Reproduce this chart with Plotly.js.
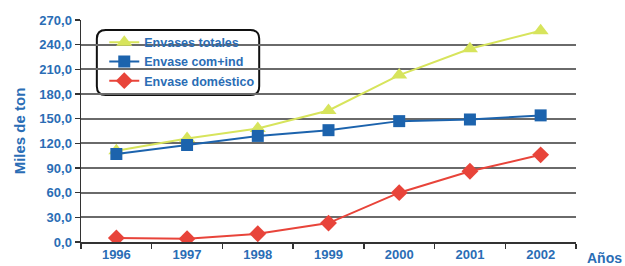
<!DOCTYPE html>
<html><head><meta charset="utf-8">
<script src="https://cdn.plot.ly/plotly-3.0.1.min.js"></script>
<style>body{margin:0;background:#fff}#c{width:625px;height:266px}</style>
</head><body><div id="c"></div>
<script>
const years = ['1996','1997','1998','1999','2000','2001','2002'];
const totales = [111, 126, 138, 160, 203, 235, 257];
const comInd = [107, 118, 129, 136, 147, 149, 154];
const domestico = [5, 4, 10, 23, 60, 86, 106];
const names = ['Envases totales', 'Envase com+ind', 'Envase doméstico'];

const blue = '#2a6db5';
const F = 'Liberation Sans, Arial, sans-serif';
const traces = [
  {x: years, y: totales, name: names[0], mode: 'lines+markers',
   line: {color: '#d7e45c', width: 2}, marker: {symbol: 'triangle-up', size: 14, color: '#d7e45c'}},
  {x: years, y: comInd, name: names[1], mode: 'lines+markers',
   line: {color: '#1c63ad', width: 2}, marker: {symbol: 'square', size: 12, color: '#1c63ad'}},
  {x: years, y: domestico, name: names[2], mode: 'lines+markers',
   line: {color: '#e8443a', width: 2}, marker: {symbol: 'diamond', size: 13, color: '#e8443a'}}
];
const x0 = 0.032, x1 = 0.36, y0 = 0.662, y1 = 0.955, rx = 0.018, ry = 0.04;
const rr = `M ${x0+rx},${y1} L ${x1-rx},${y1} Q ${x1},${y1} ${x1},${y1-ry} L ${x1},${y0+ry} Q ${x1},${y0} ${x1-rx},${y0} L ${x0+rx},${y0} Q ${x0},${y0} ${x0},${y0+ry} L ${x0},${y1-ry} Q ${x0},${y1} ${x0+rx},${y1} Z`;
const layout = {
  width: 625, height: 266,
  margin: {l: 81, r: 49, t: 20, b: 24},
  paper_bgcolor: '#fff', plot_bgcolor: '#fff',
  separators: ',.',
  showlegend: true,
  font: {family: F, color: blue},
  xaxis: {
    type: 'category', range: [-0.5, 6.5], showgrid: false,
    showline: true, linecolor: '#333', linewidth: 1.5,
    ticks: 'outside', tickson: 'boundaries', ticklen: 5, tickcolor: '#333', tickwidth: 1.5,
    tickfont: {family: F, size: 13, color: blue, weight: 'bold'}, zeroline: false
  },
  yaxis: {
    range: [0, 270], dtick: 30, tickformat: '.1f',
    showgrid: true, gridcolor: '#6a6a6a', gridwidth: 2,
    showline: true, linecolor: '#333', linewidth: 1.5,
    ticks: 'outside', ticklen: 5, tickcolor: '#333', tickwidth: 1.5,
    tickfont: {family: F, size: 13, color: blue, weight: 'bold'}, zeroline: false,
    title: {text: 'Miles de ton', font: {family: F, size: 15, color: blue, weight: 'bold'}, standoff: 10}
  },
  legend: {
    x: 0.047, y: 0.966, xanchor: 'left', yanchor: 'top',
    bgcolor: 'rgba(0,0,0,0)', borderwidth: 0,
    font: {family: F, size: 12.5, color: blue, weight: 'bold'},
    tracegroupgap: 0
  },
  shapes: [{type: 'path', xref: 'paper', yref: 'paper', path: rr,
            line: {color: '#111', width: 2}, fillcolor: '#fff', layer: 'between'}],
  annotations: [{text: 'Años', xref: 'paper', yref: 'paper', x: 1.058, y: 0, yshift: -16,
                 xanchor: 'center', yanchor: 'middle', showarrow: false,
                 font: {family: F, size: 14, color: blue, weight: 'bold'}}]
};
Plotly.newPlot('c', traces, layout, {displayModeBar: false, staticPlot: true});
</script></body></html>
